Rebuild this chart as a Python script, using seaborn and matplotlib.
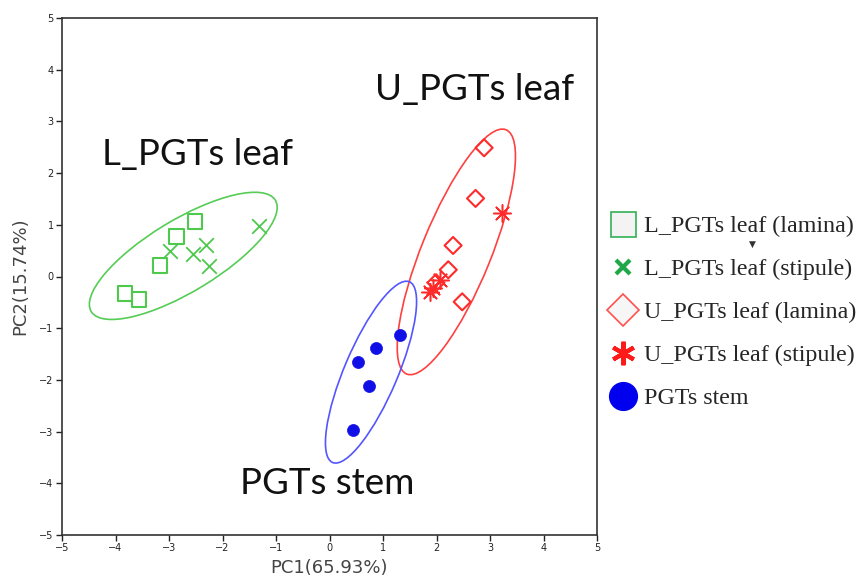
import numpy as np
import pandas as pd
import seaborn as sns
import matplotlib
matplotlib.use("Agg")
import matplotlib.pyplot as plt
from matplotlib.patches import Ellipse
from matplotlib.lines import Line2D

# ---- data ----
l_lamina_x = [-3.82, -3.56, -3.17, -2.86, -2.51]
l_lamina_y = [-0.33, -0.44, 0.21, 0.77, 1.06]
l_stipule_x = [-2.98, -2.56, -2.30, -2.25, -1.32]
l_stipule_y = [0.49, 0.43, 0.61, 0.21, 0.98]
u_lamina_x = [2.89, 2.73, 2.31, 2.22, 2.48, 1.99]
u_lamina_y = [2.49, 1.51, 0.60, 0.13, -0.49, -0.12]
u_stipule_x = [3.22, 1.88, 1.93, 2.06]
u_stipule_y = [1.22, -0.30, -0.22, -0.06]
stem_x = [1.32, 0.86, 0.53, 0.74, 0.43]
stem_y = [-1.13, -1.39, -1.66, -2.11, -2.96]

series_labels = ["L_PGTs leaf (lamina)", "L_PGTs leaf (stipule)",
                 "U_PGTs leaf (lamina)", "U_PGTs leaf (stipule)", "PGTs stem"]
group_labels = ["L_PGTs leaf", "U_PGTs leaf", "PGTs stem"]
x_label = "PC1(65.93%)"
y_label = "PC2(15.74%)"
ticks = [-5, -4, -3, -2, -1, 0, 1, 2, 3, 4, 5]

df = pd.DataFrame({
    "PC1": l_lamina_x + l_stipule_x + u_lamina_x + u_stipule_x + stem_x,
    "PC2": l_lamina_y + l_stipule_y + u_lamina_y + u_stipule_y + stem_y,
    "series": [series_labels[0]] * len(l_lamina_x) + [series_labels[1]] * len(l_stipule_x)
    + [series_labels[2]] * len(u_lamina_x) + [series_labels[3]] * len(u_stipule_x)
    + [series_labels[4]] * len(stem_x),
})
df["group"] = df["series"].map({
    series_labels[0]: group_labels[0], series_labels[1]: group_labels[0],
    series_labels[2]: group_labels[1], series_labels[3]: group_labels[1],
    series_labels[4]: group_labels[2]})

GREEN = "#4ec94e"
RED = "#ff2a2a"
BLUE = "#1010e6"

sns.set_theme(style="ticks")
plt.rcParams["font.family"] = ["DejaVu Sans"]

fig = plt.figure(figsize=(8.66, 5.86), dpi=100)
ax = fig.add_axes([62 / 866, 51 / 586, 535 / 866, 517 / 586])

styles = {
    series_labels[0]: dict(marker="s", s=110, facecolors="none", edgecolors=GREEN, linewidths=1.5),
    series_labels[1]: dict(marker="x", s=110, color=GREEN, linewidths=1.3),
    series_labels[2]: dict(marker="D", s=75, facecolors="none", edgecolors=RED, linewidths=1.5),
    series_labels[3]: dict(marker=(8, 2, 0), s=160, color=RED, linewidths=1.1),
    series_labels[4]: dict(marker="o", s=75, color=BLUE, edgecolors=BLUE, linewidths=0.5),
}
for lab in series_labels:
    sub = df[df["series"] == lab]
    sns.scatterplot(data=sub, x="PC1", y="PC2", ax=ax, legend=False, zorder=3, **styles[lab])

# 95% confidence ellipses computed from each group's points
k95 = np.sqrt(5.991)
ell_colors = {group_labels[0]: "#55cc55", group_labels[1]: "#ff4040", group_labels[2]: "#5555ff"}
for g in group_labels:
    sub = df[df["group"] == g][["PC1", "PC2"]].to_numpy()
    mu = sub.mean(axis=0)
    cov = np.cov(sub.T)
    vals, vecs = np.linalg.eigh(cov)
    order = vals.argsort()[::-1]
    vals, vecs = vals[order], vecs[:, order]
    ang = np.degrees(np.arctan2(vecs[1, 0], vecs[0, 0]))
    e = Ellipse(mu, 2 * k95 * np.sqrt(vals[0]), 2 * k95 * np.sqrt(vals[1]), angle=ang,
                fill=False, edgecolor=ell_colors[g], linewidth=1.2, zorder=2)
    ax.add_patch(e)

# group annotations
big_font = ["Lato", "DejaVu Sans"]
ax.text(2.72, 3.62, group_labels[1], fontsize=26.5, ha="center", va="center", family=big_font, color="#111111")
ax.text(-2.46, 2.36, group_labels[0], fontsize=26.5, ha="center", va="center", family=big_font, color="#111111")
ax.text(-0.05, -4.0, group_labels[2], fontsize=26.5, ha="center", va="center", family=big_font, color="#111111")

ax.set_xlim(-5, 5)
ax.set_ylim(-5, 5)
ax.set_xticks(ticks)
ax.set_yticks(ticks)
ax.set_xticklabels([str(t).replace("-", "\u2212") for t in ticks])
ax.set_yticklabels([str(t).replace("-", "\u2212") for t in ticks])
ax.tick_params(direction="out", length=4, width=1, labelsize=7, colors="#222222", pad=2)
for sp in ax.spines.values():
    sp.set_color("#333333")
    sp.set_linewidth(1.2)
ax.set_xlabel(x_label, fontsize=13, color="#444444", labelpad=4)
ax.set_ylabel(y_label, fontsize=13, color="#444444", labelpad=7)

# legend
handles = [
    Line2D([], [], marker="s", linestyle="none", markersize=18, markerfacecolor="#f3f3f3",
           markeredgecolor="#33b055", markeredgewidth=1.2),
    Line2D([], [], marker="x", linestyle="none", markersize=10, color="#1fa84a", markeredgewidth=3),
    Line2D([], [], marker="D", linestyle="none", markersize=16, markerfacecolor="#f6f6f6",
           markeredgecolor="#ff5050", markeredgewidth=1.2),
    Line2D([], [], marker=(6, 2, 0), linestyle="none", markersize=17, color="#ff1a1a", markeredgewidth=3),
    Line2D([], [], marker="o", linestyle="none", markersize=20, color="#0000ee"),
]
fig.legend(handles, series_labels, loc="upper left", bbox_to_anchor=(597 / 866, 1 - 206 / 586),
           frameon=False, prop={"family": "Liberation Serif", "size": 17.3},
           handletextpad=0.15, labelspacing=0.88, borderaxespad=0, handlelength=1.4)
fig.text(752 / 866, 1 - 244 / 586, "\u25bc", fontsize=6.5, color="#333333", ha="center", va="center")

fig.savefig("out.png", dpi=100)
